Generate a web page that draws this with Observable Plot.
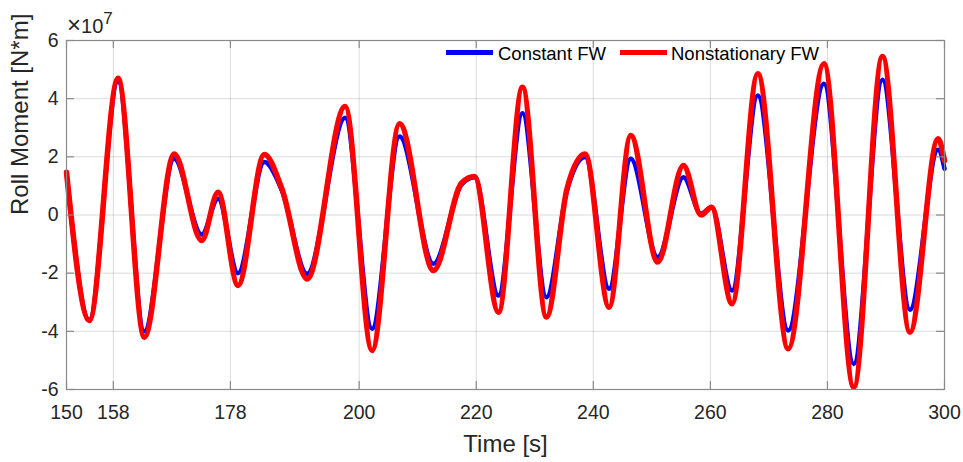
<!DOCTYPE html>
<html>
<head>
<meta charset="utf-8">
<script src="https://cdn.jsdelivr.net/npm/d3@7"></script>
<script src="https://cdn.jsdelivr.net/npm/@observablehq/plot@0.6"></script>
<style>
  html, body { margin: 0; padding: 0; background: #fff; }
  #chart { width: 963px; height: 462px; }
</style>
</head>
<body>
<div id="chart"></div>
<script>
// Time samples [s] at the turning points of the roll-moment response
const time = [150, 153.9, 158.8, 163.3, 168.4, 173.1, 175.9, 179.3, 183.8, 186.8,
  191.1, 197.6, 202.2, 206.9, 212.7, 217.5, 219.7, 223.8, 227.9, 232.0,
  235.5, 238.6, 242.7, 246.4, 251.0, 255.4, 258.4, 260.2, 263.7, 268.1,
  273.3, 279.4, 284.5, 289.4, 294.1, 298.9, 300];

// Roll moment in units of 1e7 N*m
const constantFW = [1.47, -3.6, 4.6, -4.0, 1.93, -0.67, 0.56, -2.0, 1.82, 0.84,
  -2.02, 3.34, -3.91, 2.70, -1.68, 1.05, 1.30, -2.77, 3.50, -2.83,
  0.84, 1.99, -2.54, 1.93, -1.45, 1.30, 0.04, 0.27, -2.60, 4.11,
  -3.97, 4.51, -5.12, 4.65, -3.26, 2.24, 1.59];

const nonstationaryFW = [1.47, -3.63, 4.7, -4.2, 2.10, -0.88, 0.78, -2.42, 2.08, 0.90,
  -2.20, 3.73, -4.66, 3.14, -1.91, 1.10, 1.32, -3.34, 4.39, -3.51,
  0.90, 2.10, -3.17, 2.73, -1.62, 1.70, 0.00, 0.27, -3.05, 4.86,
  -4.60, 5.20, -5.92, 5.45, -4.03, 2.62, 1.87];

const seriesNames = ["Constant FW", "Nonstationary FW"];
const xTicks = [150, 158, 178, 200, 220, 240, 260, 280, 300];
const yTicks = [-6, -4, -2, 0, 2, 4, 6];

const rows = time.map((t, i) => ({t, c: constantFW[i], n: nonstationaryFW[i]}));

const W = 963, H = 462;
const mL = 66, mR = 19, mT = 40, mB = 73;
const frameW = W - mL - mR, frameH = H - mT - mB;
const tickLen = 8;
const axisGray = "#8a8a8a";
const font = "'Liberation Sans', Arial, Helvetica, sans-serif";

const chart = Plot.plot({
  width: W,
  height: H,
  marginLeft: mL,
  marginRight: mR,
  marginTop: mT,
  marginBottom: mB,
  style: {fontFamily: font, fontSize: "19px", color: "#262626", background: "#fff"},
  x: {domain: [150, 300]},
  y: {domain: [-6, 6]},
  marks: [
    Plot.gridX(xTicks, {stroke: "#000", strokeOpacity: 0.14, strokeWidth: 1}),
    Plot.gridY(yTicks, {stroke: "#000", strokeOpacity: 0.14, strokeWidth: 1}),
    Plot.line(rows, {x: "t", y: "c", stroke: "#0000ff", strokeWidth: 4.5, curve: "monotone-x"}),
    Plot.line(rows, {x: "t", y: "n", stroke: "#ff0000", strokeWidth: 5.5, curve: "monotone-x"}),
    Plot.frame({stroke: axisGray, strokeWidth: 1.2}),
    // inward tick marks on all four sides
    Plot.tickX(xTicks, {x: d => d, stroke: axisGray, strokeWidth: 1.2, insetTop: frameH - tickLen}),
    Plot.tickX(xTicks, {x: d => d, stroke: axisGray, strokeWidth: 1.2, insetBottom: frameH - tickLen}),
    Plot.tickY(yTicks, {y: d => d, stroke: axisGray, strokeWidth: 1.2, insetRight: frameW - tickLen}),
    Plot.tickY(yTicks, {y: d => d, stroke: axisGray, strokeWidth: 1.2, insetLeft: frameW - tickLen}),
    Plot.axisX(xTicks, {tickSize: 0, tickPadding: 16, tickFormat: d => String(d), label: null, fontSize: 19.5}),
    Plot.axisY(yTicks, {tickSize: 0, tickPadding: 8, tickFormat: d => String(d), label: null, fontSize: 19.5}),
    Plot.text(["Time [s]"], {frameAnchor: "bottom", dy: 55, lineAnchor: "middle", fontSize: 24, fill: "#262626"}),
    Plot.text(["Roll Moment [N*m]"], {frameAnchor: "left", dx: -46, rotate: -90, lineAnchor: "middle", fontSize: 24, fill: "#262626"})
  ]
});

document.getElementById("chart").appendChild(chart);

const svg = d3.select(chart);

// exponent label of the y axis
const expo = svg.append("text")
  .attr("x", mL + 1)
  .attr("y", 33)
  .attr("text-anchor", "start")
  .attr("fill", "#262626")
  .style("font-family", font)
  .style("font-size", "20px");
expo.append("tspan").style("font-size", "24px").text("×");
expo.append("tspan").text("10");
expo.append("tspan").attr("dy", -9).style("font-size", "17px").text("7");

// legend inside the top of the axes
const legendItems = [
  {name: seriesNames[0], color: "#0000ff", x0: 446, x1: 493, tx: 498},
  {name: seriesNames[1], color: "#ff0000", x0: 620, x1: 667, tx: 671}
];
const lg = svg.append("g");
legendItems.forEach(item => {
  lg.append("line")
    .attr("x1", item.x0).attr("x2", item.x1)
    .attr("y1", 52.5).attr("y2", 52.5)
    .attr("stroke", item.color).attr("stroke-width", 5);
  lg.append("text")
    .attr("x", item.tx).attr("y", 60)
    .attr("text-anchor", "start")
    .attr("fill", "#000")
    .style("font-family", font)
    .style("font-size", "18.5px")
    .text(item.name);
});
</script>
</body>
</html>
